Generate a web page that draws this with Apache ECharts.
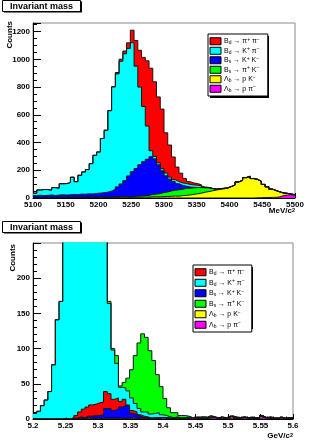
<!DOCTYPE html>
<html>
<head>
<meta charset="utf-8">
<script src="https://cdn.jsdelivr.net/npm/echarts@6/dist/echarts.min.js"></script>
<style>
  html, body { margin: 0; padding: 0; background: #fff; }
  #chart { width: 327px; height: 442px; }
</style>
</head>
<body>
<div id="chart"></div>
<script>
// 70 bins per histogram
const NBINS = 70
const topRange = [5100, 5500]   // MeV/c^2
const botRange = [5.2, 5.6]     // GeV/c^2

// channels, in legend order
const channels = ['Bd_pipi', 'Bd_Kpi', 'Bs_KK', 'Bs_piK', 'Lb_pK', 'Lb_ppi']
const legendText = {
  Bd_pipi: '{t|B}{sb|d}{t| → π}{sp|+}{t| π}{sp|−}',
  Bd_Kpi: '{t|B}{sb|d}{t| → K}{sp|+}{t| π}{sp|−}',
  Bs_KK: '{t|B}{sb|s}{t| → K}{sp|+}{t| K}{sp|−}',
  Bs_piK: '{t|B}{sb|s}{t| → π}{sp|+}{t| K}{sp|−}',
  Lb_pK: '{t|Λ}{sb|b}{t| → p K}{sp|−}',
  Lb_ppi: '{t|Λ}{sb|b}{t| → p π}{sp|−}'
}

// ---- upper plot, counts per bin ----
const topBdPiPi = [
  0,0,0,0,0,0,0,0,0,0, 0,0,0,0,0,0,0,0,0,0,
  0,0,10,15,20,40,90,185,265,354, 470,595,538,475,430,290,231,164,104,70,
  36,20,14,12,7,0,0,0,0,0, 0,0,0,0,0,0,0,0,0,0, 0,0,0,0,0,0,0,0,0,0]
const topBdKPi = [
  18,38,44,42,35,57,50,80,83,88, 124,94,136,161,175,219,275,297,391,447,
  580,740,815,885,915,920,930,738,560,398, 240,44,18,15,15,20,15,14,16,18,
  20,19,17,16,12,3,1,1,1,0, 1,1,0,1,1,0,1,0,1,1, 0,0,1,0,1,0,0,1,0,0]
const topBsKK = [
  13,15,12,14,17,13,15,19,16,17, 20,18,22,21,24,23,27,29,32,36,
  44,54,72,91,115,150,179,200,226,245, 260,272,254,207,157,116,85,62,44,28,
  16,8,4,1,1,1,1,0,0,0, 0,0,0,0,0,0,0,0,0,0, 0,0,0,0,0,0,0,0,0,0]
const topBsPiK = [
  2,2,1,2,3,2,2,1,2,2, 2,3,1,2,2,1,2,3,2,1,
  2,3,3,4,5,5,6,7,9,10, 13,17,19,24,29,33,39,42,46,46,
  50,49,47,45,40,32,28,16,7,5, 3,2,1,1,1,0,1,1,0,1, 1,0,1,1,0,1,0,1,0,0]
const topLbPK = [
  2,3,4,3,2,3,4,3,3,4, 4,3,5,4,4,5,4,3,4,5,
  4,5,5,6,5,4,5,6,5,7, 6,8,9,8,10,11,12,14,13,17,
  19,22,26,30,35,42,46,52,57,62, 66,70,82,93,115,128,146,156,140,132,
  118,95,76,59,48,35,18,10,4,4]
const topLbPPi = [
  0,0,0,0,0,0,0,0,0,0, 0,0,0,0,0,0,0,0,0,0,
  0,0,0,0,0,0,0,0,0,0, 0,0,0,0,0,0,0,0,0,0,
  0,0,0,0,0,0,0,0,0,0, 0,0,0,0,0,0,0,0,0,1, 2,3,4,4,5,8,18,22,24,20]

// ---- lower plot, counts per bin ----
const botBdPiPi = [
  0,0,0,0,0,0,0,0,0,0, 1,4,7,12,13,16,16,18,18,24,
  21,16,16,8,9,2,4,4,2,2, 1,0,0,1,0,0,0,0,0,0,
  0,0,0,0,0,0,0,0,0,0, 0,0,0,0,0,1,1,0,0,0, 0,0,0,1,0,0,0,0,0,0]
const botBdKPi = [
  8,11,19,27,39,77,141,167,300,430, 558,694,810,885,913,860,739,577,426,291,
  128,70,49,20,16,20,18,12,9,6, 7,6,6,7,4,3,2,1,1,0,
  1,2,0,1,0,2,1,0,1,0, 1,0,2,0,1,0,0,1,0,1, 0,1,0,1,0,0,1,0,1,0]
const botBsKK = [
  0,0,0,0,0,0,0,0,1,0, 0,0,2,2,2,3,4,4,5,14,
  14,11,13,16,18,17,6,5,3,1, 1,0,1,0,0,1,0,0,0,0,
  0,0,0,0,1,0,0,0,0,0, 0,0,0,0,0,0,0,0,1,0, 0,0,0,0,0,0,0,0,0,0]
const botBsPiK = [
  0,0,0,0,0,0,0,0,0,0, 0,0,0,0,0,0,0,0,0,0,
  3,2,11,2,8,18,40,68,93,111, 106,90,75,54,40,24,13,7,6,4,
  3,1,0,1,1,0,1,2,0,1, 0,1,0,0,1,0,0,0,1,0, 1,0,0,0,1,0,0,0,0,1]
const botLbPK = [
  0,0,0,0,0,0,0,0,0,0, 1,0,0,0,1,0,0,0,0,0,
  0,0,0,0,0,0,1,0,0,0, 0,0,0,0,0,0,0,0,1,0,
  0,0,0,0,0,0,0,2,0,0, 1,0,0,2,0,0,0,0,0,0, 0,2,1,0,0,0,0,0,0,0]
const botLbPPi = [
  0,0,0,0,0,0,0,0,0,0, 0,1,1,0,1,1,1,1,1,1,
  1,1,1,1,1,1,1,1,1,1, 1,1,1,1,2,1,1,1,1,1,
  1,1,2,1,1,1,1,1,2,1, 1,1,1,2,1,1,2,1,1,1, 1,2,1,1,1,1,2,1,1,1]

const topCounts = { Bd_pipi: topBdPiPi, Bd_Kpi: topBdKPi, Bs_KK: topBsKK, Bs_piK: topBsPiK, Lb_pK: topLbPK, Lb_ppi: topLbPPi }
const botCounts = { Bd_pipi: botBdPiPi, Bd_Kpi: botBdKPi, Bs_KK: botBsKK, Bs_piK: botBsPiK, Lb_pK: botLbPK, Lb_ppi: botLbPPi }
// stacking order, bottom -> top
const topOrder = ['Lb_ppi', 'Lb_pK', 'Bs_piK', 'Bs_KK', 'Bd_Kpi', 'Bd_pipi']
const botOrder = ['Lb_ppi', 'Lb_pK', 'Bs_KK', 'Bd_pipi', 'Bd_Kpi', 'Bs_piK']

const colors = { Bd_pipi: '#ff0000', Bd_Kpi: '#00ffff', Bs_KK: '#0000ff', Bs_piK: '#00ff00', Lb_pK: '#ffff00', Lb_ppi: '#ff00ff' }
const FONT = '"Liberation Sans", "DejaVu Sans", Arial, sans-serif'

// stacked histogram as step areas, tallest drawn first
function histStack(range, counts, order, gi) {
  const w = (range[1] - range[0]) / NBINS
  let cum = new Array(NBINS).fill(0)
  const list = order.map(key => {
    cum = cum.map((c, i) => c + counts[key][i])
    const pts = cum.map((v, i) => [range[0] + i * w, v])
    pts.push([range[1], cum[NBINS - 1]])
    return {
      name: key,
      type: 'line',
      step: 'end',
      xAxisIndex: gi,
      yAxisIndex: gi,
      data: pts,
      symbol: 'none',
      silent: true,
      clip: true,
      lineStyle: { color: '#151515', width: 1 },
      areaStyle: { color: colors[key], opacity: 1 },
      itemStyle: { color: colors[key] }
    }
  })
  return list.reverse()
}

function legendBox(left, top, gap, padRight) {
  return {
    orient: 'vertical',
    left: left,
    top: top,
    itemGap: gap,
    itemWidth: 11,
    itemHeight: 7,
    padding: [3, padRight, 3, 1.5],
    backgroundColor: '#fff',
    borderColor: '#000',
    borderWidth: 1,
    icon: 'rect',
    selectedMode: false,
    data: channels.map(k => ({ name: k, itemStyle: { color: colors[k], borderColor: '#000', borderWidth: 1 } })),
    formatter: n => legendText[n],
    textStyle: {
      fontFamily: FONT, fontSize: 7, color: '#000', padding: [0, 0, 0, -2],
      rich: {
        t: { fontFamily: FONT, fontSize: 7, lineHeight: 8.5, color: '#000' },
        sb: { fontFamily: FONT, fontSize: 5, verticalAlign: 'bottom', color: '#000' },
        sp: { fontFamily: FONT, fontSize: 5, verticalAlign: 'top', color: '#000' }
      }
    }
  }
}

// plain numbers, no thousands separator
const plain = v => String(Math.round(v * 1000) / 1000)

function xAxisOf(gi, range, step) {
  return {
    type: 'value', gridIndex: gi, min: range[0], max: range[1], interval: step,
    axisLine: { onZero: false, lineStyle: { color: '#000', width: 1 } },
    axisTick: { inside: true, length: 5, lineStyle: { color: '#000' } },
    minorTick: { show: true, splitNumber: 5, length: 2.5, lineStyle: { color: '#000' } },
    splitLine: { show: false },
    axisLabel: { fontFamily: FONT, fontSize: 8, fontWeight: 'bold', color: '#000', margin: 3, formatter: plain }
  }
}
function yAxisOf(gi, max, step, minor) {
  return {
    type: 'value', gridIndex: gi, min: 0, max: max, interval: step,
    axisLine: { show: true, lineStyle: { color: '#000', width: 1 } },
    axisTick: { inside: true, length: 8, lineStyle: { color: '#000' } },
    minorTick: { show: true, splitNumber: minor, length: 4, lineStyle: { color: '#000' } },
    splitLine: { show: false },
    axisLabel: { fontFamily: FONT, fontSize: 8, fontWeight: 'bold', color: '#000', margin: 3, showMaxLabel: false, formatter: plain }
  }
}

function titleBox(y) {
  return [
    { type: 'rect', z: 10, shape: { x: 4, y: y + 1.5, width: 78, height: 11 }, style: { fill: '#000' } },
    { type: 'rect', z: 11, shape: { x: 2.5, y: y + 0.5, width: 78, height: 11 }, style: { fill: '#fff', stroke: '#000', lineWidth: 1 } },
    { type: 'text', z: 12, x: 10, y: y + 6.5, style: { text: 'Invariant mass', font: 'bold 9px ' + FONT, fill: '#000', align: 'left', verticalAlign: 'middle', textAlign: 'left', textVerticalAlign: 'middle' } }
  ]
}
function unitText(x, y, u) {
  return {
    type: 'text', z: 12, x: x, y: y,
    style: {
      text: '{a|' + u + '/c}{b|2}', align: 'right', verticalAlign: 'middle', textAlign: 'right', textVerticalAlign: 'middle',
      rich: {
        a: { fontFamily: FONT, fontSize: 8, fontWeight: 'bold', fill: '#000', color: '#000' },
        b: { fontFamily: FONT, fontSize: 5.5, fontWeight: 'bold', verticalAlign: 'top', fill: '#000', color: '#000' }
      }
    }
  }
}
function countsText(x, y) {
  return {
    type: 'text', z: 12, x: x, y: y, rotation: Math.PI / 2,
    style: { text: 'Counts', font: 'bold 8px ' + FONT, fill: '#000', align: 'right', verticalAlign: 'middle', textAlign: 'right', textVerticalAlign: 'middle' }
  }
}

const chart = echarts.init(document.getElementById('chart'), null, { renderer: 'canvas' })
chart.setOption({
  animation: false,
  backgroundColor: '#fff',
  grid: [
    { left: 33, top: 23, width: 262, height: 175, show: true, borderColor: '#8a8a8a', borderWidth: 1, backgroundColor: 'transparent', outerBoundsMode: 'none', containLabel: false },
    { left: 33, top: 243, width: 260, height: 176, show: true, borderColor: '#8a8a8a', borderWidth: 1, backgroundColor: 'transparent', outerBoundsMode: 'none', containLabel: false }
  ],
  xAxis: [xAxisOf(0, topRange, 50), xAxisOf(1, botRange, 0.05)],
  yAxis: [yAxisOf(0, 1262, 200, 4), yAxisOf(1, 250, 50, 5)],
  legend: [legendBox(208, 34, 1, 8), legendBox(193, 265, 2, 7)],
  graphic: [
    ...titleBox(0),
    ...titleBox(221),
    countsText(9.5, 21),
    countsText(12.5, 244),
    unitText(295, 211, 'MeV'),
    unitText(293, 436, 'GeV'),
    { type: 'rect', z: 3, shape: { x: 210, y: 36, width: 59, height: 62 }, style: { fill: '#000' } },
    { type: 'rect', z: 3, shape: { x: 195, y: 267, width: 58, height: 62 }, style: { fill: '#000' } }
  ],
  series: [
    ...histStack(topRange, topCounts, topOrder, 0),
    ...histStack(botRange, botCounts, botOrder, 1)
  ]
})
</script>
</body>
</html>
